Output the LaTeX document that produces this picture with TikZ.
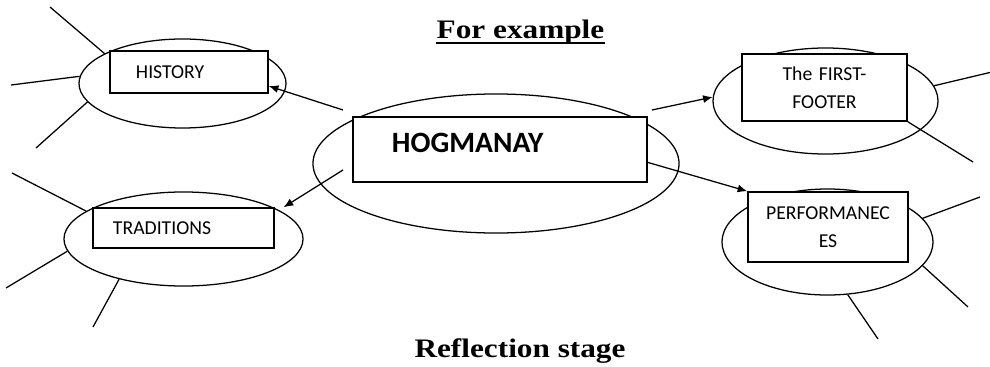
\documentclass[tikz,border=0pt]{standalone}
\usepackage{fontspec}
\setmainfont{Carlito}
\newfontfamily\headfont{Liberation Serif}
\usetikzlibrary{shapes.geometric,arrows.meta,positioning}

\begin{document}
\begin{tikzpicture}[x=0.025cm,y=-0.025cm]
\tikzstyle{bubble}=[ellipse, draw=black, line width=0.9pt, inner sep=0pt]
\tikzstyle{box}=[rectangle, draw=black, line width=1.1pt, fill=white, inner ysep=0pt, font=\fontsize{14}{20}\selectfont]
\tikzstyle{connect}=[-{Latex[length=0.24cm,width=0.2cm]}, line width=0.9pt]
\tikzstyle{ray}=[line width=0.9pt]
\tikzstyle{head}=[font=\headfont\bfseries\fontsize{19}{22}\selectfont, inner sep=0pt, xscale=1.17, anchor=base]
\useasboundingbox (0,0) rectangle (990,367);

% titles
\node[head] (title) at (520.5,38.3) {For example};
\draw[line width=1.5pt] ([yshift=-0.125cm]title.base west) -- ([yshift=-0.125cm]title.base east);
\node[head] (stage) at (520,357.7) {Reflection stage};

% ellipses
\node[bubble, minimum width=5.175cm, minimum height=2.225cm] (hist_e) at (182.5,83.5) {};
\node[bubble, minimum width=5.975cm, minimum height=2.35cm] (trad_e) at (183.5,239) {};
\node[bubble, minimum width=9.15cm, minimum height=3.475cm] (hog_e) at (496,163.5) {};
\node[bubble, minimum width=5.625cm, minimum height=2.65cm] (ff_e) at (825.5,101) {};
\node[bubble, minimum width=5.275cm, minimum height=2.65cm] (perf_e) at (827.5,242) {};

% boxes
\node[box, minimum width=3.95cm, minimum height=1.05cm, inner xsep=0.65cm, text width=2.65cm, align=left] (hist_box) at (189,72) {HISTORY};
\node[box, minimum width=4.525cm, minimum height=1cm, inner xsep=0.5cm, text width=3.525cm, align=left] (trad_box) at (183.5,228) {TRADITIONS};
\node[box, minimum width=7.35cm, minimum height=1.625cm, inner xsep=0.975cm, text width=5.4cm, text depth=9.2pt, align=left, font=\bfseries\fontsize{21}{24}\selectfont] (hog_box) at (500,149.5) {HOGMANAY};
\node[box, minimum width=4.125cm, minimum height=1.675cm, text width=3.5cm, align=center] (ff_box) at (824.5,87.5) {The FIRST-\\FOOTER};
\node[box, minimum width=4cm, minimum height=1.75cm, text width=3.4cm, align=center] (perf_box) at (828,227) {PERFORMANEC\\ES};

% free ends
\coordinate (hog_nw) at (343,110);
\coordinate (hog_w) at (343,170);
\coordinate (hog_ne) at (652,110);
\coordinate (hist_r1) at (50,7);
\coordinate (hist_r2) at (11,85);
\coordinate (hist_r3) at (36,148);
\coordinate (trad_r1) at (12,173);
\coordinate (trad_r2) at (6,288);
\coordinate (trad_r3) at (93,327);
\coordinate (ff_r1) at (992,72);
\coordinate (ff_r2) at (973,162);
\coordinate (perf_r1) at (980,197);
\coordinate (perf_r2) at (968,307);
\coordinate (perf_r3) at (878,339);

\path
(hog_nw) edge [connect] (hist_box.-10)
(hog_w) edge [connect] ([xshift=0.22cm]trad_box.north east)
(hog_ne) edge [connect] (ff_e.178)
(hog_box.-5) edge [connect] (perf_box.north west)

(hist_e.159) edge [ray] (hist_r1)
(hist_e.176) edge [ray] (hist_r2)
(hist_e.191) edge [ray] (hist_r3)

(trad_e.164) edge [ray] (trad_r1)
(trad_e.186) edge [ray] (trad_r2)
(trad_e.212) edge [ray] (trad_r3)

(ff_e.8) edge [ray] (ff_r1)
(ff_box.south east) edge [ray] (ff_r2)

(perf_e.14) edge [ray] (perf_r1)
(perf_e.346) edge [ray] (perf_r2)
(perf_e.291) edge [ray] (perf_r3);
\end{tikzpicture}
\end{document}
